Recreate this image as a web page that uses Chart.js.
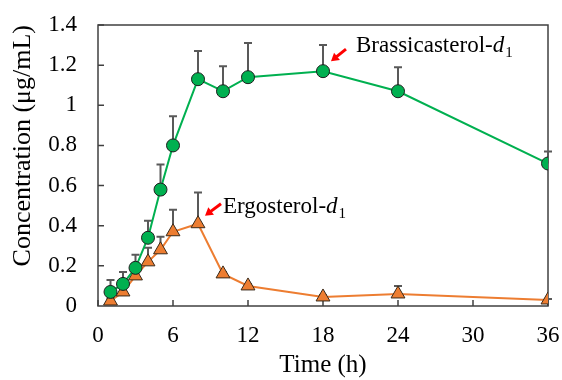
<!DOCTYPE html>
<html>
<head>
<meta charset="utf-8">
<script src="https://cdn.jsdelivr.net/npm/chart.js@4.4.1/dist/chart.umd.min.js"></script>
<style>
  html, body { margin: 0; padding: 0; background: #fff; }
  #wrap { width: 562px; height: 380px; position: relative; }
</style>
</head>
<body>
<div id="wrap"><canvas id="c"></canvas></div>
<script>
// sampling times (h)
const TIMES = [1, 2, 3, 4, 5, 6, 8, 10, 12, 18, 24, 36];
// Brassicasterol-d1 mean and upper error (µg/mL)
const BRASSI = [0.07, 0.11, 0.19, 0.34, 0.58, 0.80, 1.13, 1.07, 1.14, 1.17, 1.07, 0.71];
const BRASSI_ERR = [0.06, 0.06, 0.065, 0.085, 0.125, 0.145, 0.14, 0.125, 0.17, 0.13, 0.12, 0.06];
// Ergosterol-d1 mean and upper error (µg/mL)
const ERGO = [0.025, 0.07, 0.15, 0.22, 0.28, 0.37, 0.41, 0.16, 0.10, 0.045, 0.06, 0.03];
const ERGO_ERR = [0.01, 0.01, 0.02, 0.07, 0.065, 0.11, 0.155, 0.01, 0.01, 0.01, 0.04, 0.005];

const X_TICKS = [0, 6, 12, 18, 24, 30, 36];
const SERIF = '"Liberation Serif", "Times New Roman", serif';
const AXIS_COLOR = '#404040';
const ERR_COLOR = '#595959';

const pts = (ys) => TIMES.map((t, i) => ({ x: t, y: ys[i] }));

// upper-only error bars, drawn under the markers
const errorBars = {
  id: 'errorBars',
  beforeDatasetsDraw(chart) {
    const { ctx, scales: { x, y } } = chart;
    const sets = [[BRASSI, BRASSI_ERR], [ERGO, ERGO_ERR]];
    ctx.save();
    ctx.strokeStyle = ERR_COLOR;
    ctx.lineWidth = 2;
    sets.forEach(([vals, errs]) => {
      vals.forEach((v, i) => {
        const px = x.getPixelForValue(TIMES[i]);
        const py = y.getPixelForValue(v);
        const pt = y.getPixelForValue(v + errs[i]);
        ctx.beginPath();
        ctx.moveTo(px, py);
        ctx.lineTo(px, pt);
        ctx.moveTo(px - 4, pt);
        ctx.lineTo(px + 4, pt);
        ctx.stroke();
      });
    });
    ctx.restore();
  },
};

// box frame + inward tick marks
const frame = {
  id: 'frame',
  beforeDatasetsDraw(chart) {
    const { ctx, chartArea: a, scales: { x, y } } = chart;
    ctx.save();
    ctx.strokeStyle = AXIS_COLOR;
    ctx.lineWidth = 1.5;
    ctx.strokeRect(a.left, a.top, a.right - a.left, a.bottom - a.top);
    ctx.beginPath();
    X_TICKS.forEach((t) => {
      const px = x.getPixelForValue(t);
      ctx.moveTo(px, a.bottom);
      ctx.lineTo(px, a.bottom - 6);
    });
    for (let v = 0.2; v < 1.41; v += 0.2) {
      const py = y.getPixelForValue(v);
      ctx.moveTo(a.left, py);
      ctx.lineTo(a.left + 6, py);
    }
    ctx.stroke();
    ctx.restore();
  },
};

function arrow(ctx, x0, y0, x1, y1) {
  const ang = Math.atan2(y1 - y0, x1 - x0);
  const head = 9;
  ctx.save();
  ctx.strokeStyle = '#ff0000';
  ctx.fillStyle = '#ff0000';
  ctx.lineWidth = 3;
  ctx.beginPath();
  ctx.moveTo(x0, y0);
  ctx.lineTo(x1 - Math.cos(ang) * head * 0.8, y1 - Math.sin(ang) * head * 0.8);
  ctx.stroke();
  ctx.beginPath();
  ctx.moveTo(x1, y1);
  ctx.lineTo(x1 - head * Math.cos(ang - 0.55), y1 - head * Math.sin(ang - 0.55));
  ctx.lineTo(x1 - head * Math.cos(ang + 0.55), y1 - head * Math.sin(ang + 0.55));
  ctx.closePath();
  ctx.fill();
  ctx.restore();
}

function label(ctx, x0, y0, name) {
  ctx.save();
  ctx.fillStyle = '#000';
  ctx.textBaseline = 'alphabetic';
  ctx.font = '23px ' + SERIF;
  ctx.fillText(name + '-', x0, y0);
  let w = ctx.measureText(name + '-').width;
  ctx.font = 'italic 23px ' + SERIF;
  ctx.fillText('d', x0 + w, y0);
  w += ctx.measureText('d').width;
  ctx.font = '15px ' + SERIF;
  ctx.fillText('1', x0 + w + 1, y0 + 5);
  ctx.restore();
}

// series names with red arrows, placed next to a chosen point
const annotations = {
  id: 'annotations',
  afterDatasetsDraw(chart) {
    const { ctx, scales: { x, y } } = chart;
    const bx = x.getPixelForValue(18), by = y.getPixelForValue(BRASSI[9]);
    arrow(ctx, bx + 23, by - 22, bx + 8, by - 10);
    label(ctx, bx + 33, by - 19, 'Brassicasterol');
    const ex = x.getPixelForValue(8), ey = y.getPixelForValue(ERGO[6]);
    arrow(ctx, ex + 23, ey - 20, ex + 7, ey - 8);
    label(ctx, ex + 25, ey - 11, 'Ergosterol');
  },
};

new Chart(document.getElementById('c').getContext('2d'), {
  type: 'line',
  data: {
    datasets: [
      {
        label: 'Brassicasterol-d1',
        data: pts(BRASSI),
        borderColor: '#00b050',
        backgroundColor: '#00b050',
        pointBorderColor: '#1e1e1e',
        pointBorderWidth: 1,
        pointRadius: 6.5,
        pointStyle: 'circle',
        borderWidth: 2,
        tension: 0,
      },
      {
        label: 'Ergosterol-d1',
        data: pts(ERGO),
        borderColor: '#ed7d31',
        backgroundColor: '#ed7d31',
        pointBorderColor: '#3a2a1a',
        pointBorderWidth: 1,
        pointRadius: 8,
        pointStyle: 'triangle',
        borderWidth: 2,
        tension: 0,
      },
    ],
  },
  options: {
    responsive: true,
    maintainAspectRatio: false,
    animation: false,
    layout: { padding: { top: 25, right: 14, left: 0, bottom: 0 } },
    plugins: { legend: { display: false }, tooltip: { enabled: false } },
    scales: {
      x: {
        type: 'linear',
        min: 0,
        max: 36,
        afterBuildTicks: (s) => { s.ticks = X_TICKS.map((v) => ({ value: v })); },
        afterFit: (s) => { s.height = 74; s.paddingLeft = 0; s.paddingRight = 0; },
        ticks: { color: '#000', font: { family: SERIF, size: 23 }, padding: 16, maxRotation: 0 },
        grid: { display: false, drawTicks: false },
        border: { display: false },
        title: { display: true, text: 'Time (h)', color: '#000', font: { family: SERIF, size: 25 }, padding: { top: 3, bottom: 0 } },
      },
      y: {
        min: 0,
        max: 1.4,
        afterFit: (s) => { s.width = 98; s.paddingTop = 0; s.paddingBottom = 0; },
        ticks: {
          stepSize: 0.2,
          color: '#000',
          font: { family: SERIF, size: 23 },
          padding: 21,
          callback: (v) => String(Number(v.toFixed(1))),
        },
        grid: { display: false, drawTicks: false },
        border: { display: false },
        title: { display: true, align: 'end', text: 'Concentration (μg/mL)', color: '#000', font: { family: SERIF, size: 26 }, padding: { top: 8, bottom: 0 } },
      },
    },
  },
  plugins: [frame, errorBars, annotations],
});
</script>
</body>
</html>
